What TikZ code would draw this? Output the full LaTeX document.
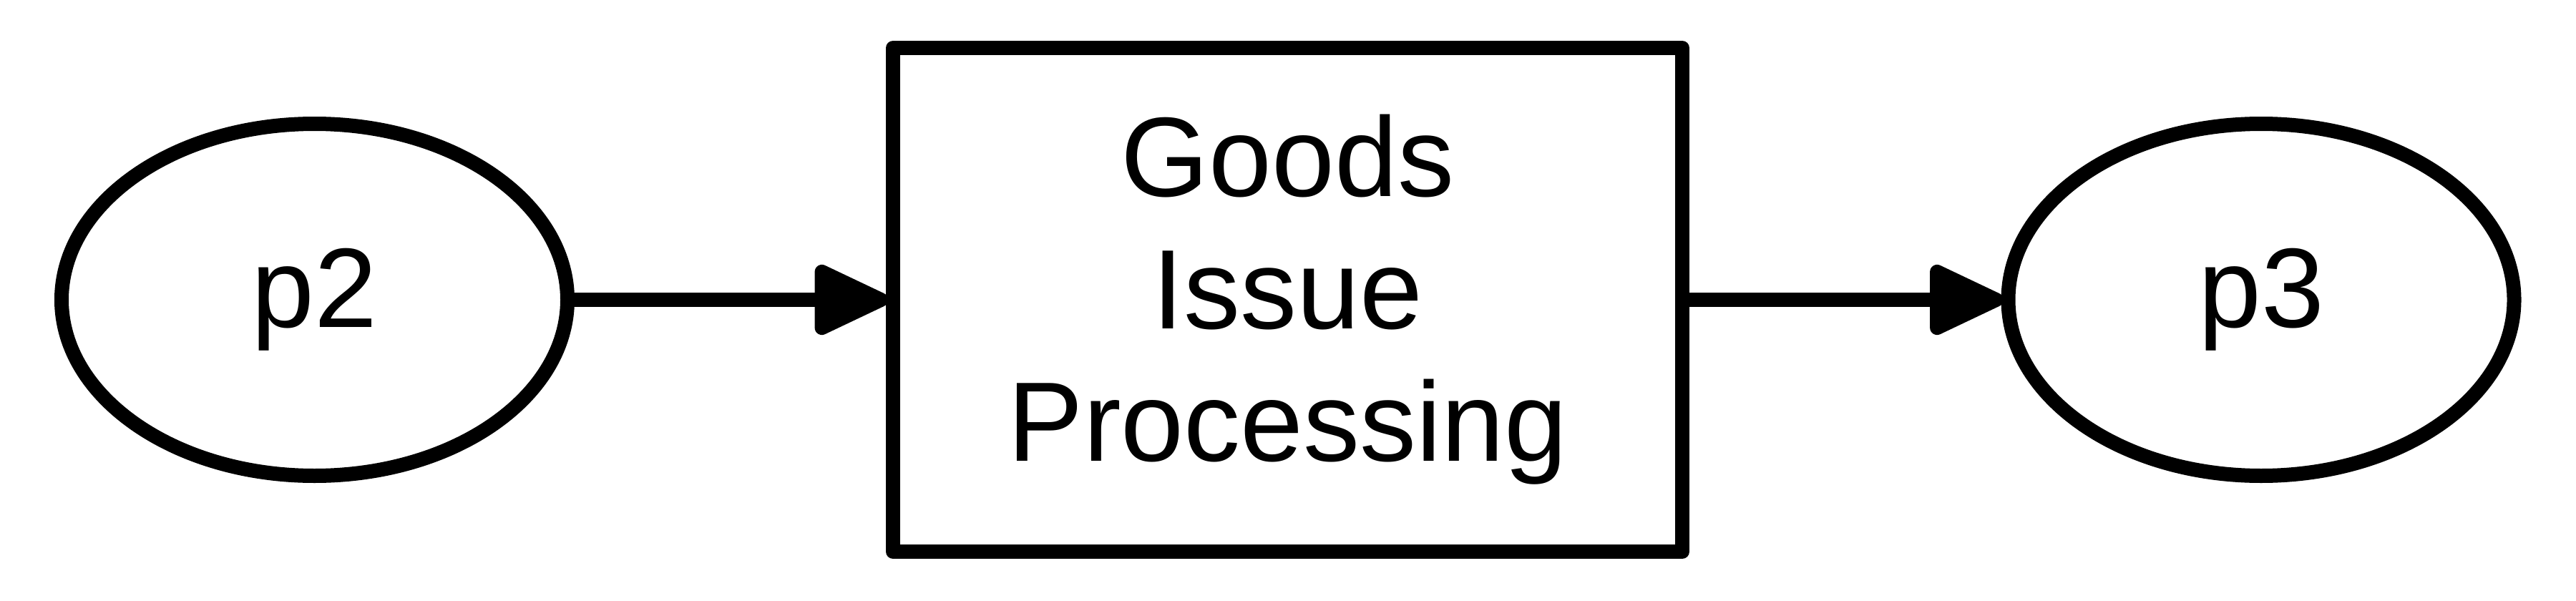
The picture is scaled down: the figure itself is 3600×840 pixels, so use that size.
\documentclass[tikz,border=0pt]{standalone}
\usepackage{fontspec}
\setmainfont{Liberation Sans}
\usetikzlibrary{arrows.meta,shapes.geometric}
\begin{document}
\begin{tikzpicture}[x=1pt,y=-1pt,
  every node/.style={line width=20pt, draw=black, inner sep=0pt, outer sep=10pt,
    font=\fontsize{158}{185}\selectfont},
  place/.style={ellipse, minimum width=707pt, minimum height=492pt},
  trans/.style={rectangle, minimum width=1103pt, minimum height=704pt, align=center, line join=round},
  arc/.style={line width=20pt, shorten >=-3pt, -{Triangle[length=117pt, width=104pt, round]}}]
\useasboundingbox (0,0) rectangle (3600,840);
\node[place] (p2) at (439.5,419) {p2};
\node[trans] (t) at (1799.5,419) {Goods\\Issue\\Processing};
\node[place] (p3) at (3160,419) {p3};
\draw[arc] (p2) -- (t);
\draw[arc] (t) -- (p3);
\end{tikzpicture}
\end{document}
